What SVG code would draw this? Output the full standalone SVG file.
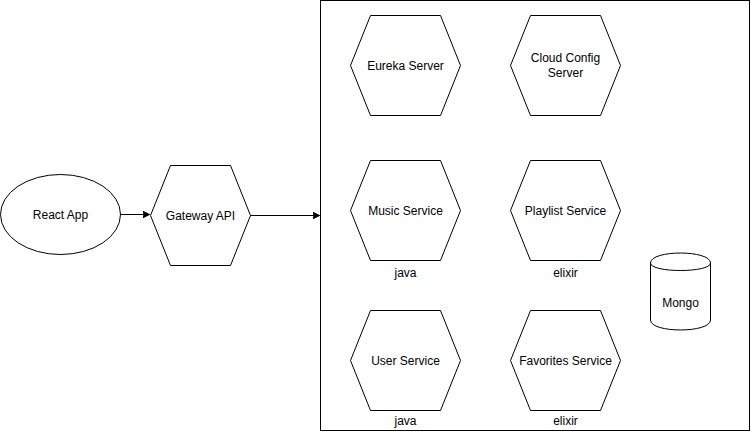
<svg xmlns="http://www.w3.org/2000/svg" width="751" height="437" viewBox="0 0 751 437">
<style>
.s{fill:#fff;stroke:#000;stroke-width:1}
.t{font-family:"Liberation Sans",Arial,sans-serif;font-size:12px;fill:#000;text-anchor:middle}
.c{fill:none;stroke:#000;stroke-width:1}
</style>
<defs>
<marker id="ah" markerWidth="8" markerHeight="8" refX="7" refY="4" orient="auto" markerUnits="userSpaceOnUse">
<path d="M0,0.5 L7,4 L0,7.5 L1.75,4 Z" fill="#000" stroke="#000" stroke-width="1"/>
</marker>
</defs>
<rect width="751" height="437" fill="#fff"/>
<g id="container"><rect class="s" x="320.5" y="0.5" width="429" height="430"/></g>
<g id="react-app"><ellipse class="s" cx="60.5" cy="214.5" rx="60" ry="40"/><text class="t" x="60.5" y="218.5">React App</text></g>
<g id="gateway"><polygon class="s" points="150.5,215.5 170.5,165.5 230.5,165.5 250.5,215.5 230.5,265.5 170.5,265.5"/><text class="t" x="200.5" y="219.5">Gateway API</text></g>
<g id="eureka"><polygon class="s" points="350.5,65.5 370.5,15.5 440.5,15.5 460.5,65.5 440.5,115.5 370.5,115.5"/><text class="t" x="405.5" y="69.5">Eureka Server</text></g>
<g id="cloud-config"><polygon class="s" points="510.5,65.5 530.5,15.5 600.5,15.5 620.5,65.5 600.5,115.5 530.5,115.5"/><text class="t" x="565.5" y="62">Cloud Config</text><text class="t" x="565.5" y="77">Server</text></g>
<g id="music"><polygon class="s" points="350.5,210.5 370.5,160.5 440.5,160.5 460.5,210.5 440.5,260.5 370.5,260.5"/><text class="t" x="405.5" y="214.5">Music Service</text><text class="t" x="405.5" y="277">java</text></g>
<g id="playlist"><polygon class="s" points="510.5,210.5 530.5,160.5 600.5,160.5 620.5,210.5 600.5,260.5 530.5,260.5"/><text class="t" x="565.5" y="214.5">Playlist Service</text><text class="t" x="565.5" y="277">elixir</text></g>
<g id="user"><polygon class="s" points="350.5,360.5 370.5,310.5 440.5,310.5 460.5,360.5 440.5,410.5 370.5,410.5"/><text class="t" x="405.5" y="364.5">User Service</text><text class="t" x="405.5" y="425">java</text></g>
<g id="favorites"><polygon class="s" points="510.5,360.5 530.5,310.5 600.5,310.5 620.5,360.5 600.5,410.5 530.5,410.5"/><text class="t" x="565.5" y="364.5">Favorites Service</text><text class="t" x="565.5" y="425">elixir</text></g>
<g id="mongo"><path class="s" d="M650.5,263 C650.5,249.7 710.5,249.7 710.5,263 L710.5,320 C710.5,333.3 650.5,333.3 650.5,320 Z"/><path class="c" d="M650.5,263 C650.5,273 710.5,273 710.5,263"/><text class="t" x="680.5" y="307">Mongo</text></g>
<g id="connectors">
<line class="c" x1="120.5" y1="214.5" x2="149.5" y2="214.5" marker-end="url(#ah)"/>
<line class="c" x1="250.5" y1="215.5" x2="319.5" y2="215.5" marker-end="url(#ah)"/>
</g>
</svg>
